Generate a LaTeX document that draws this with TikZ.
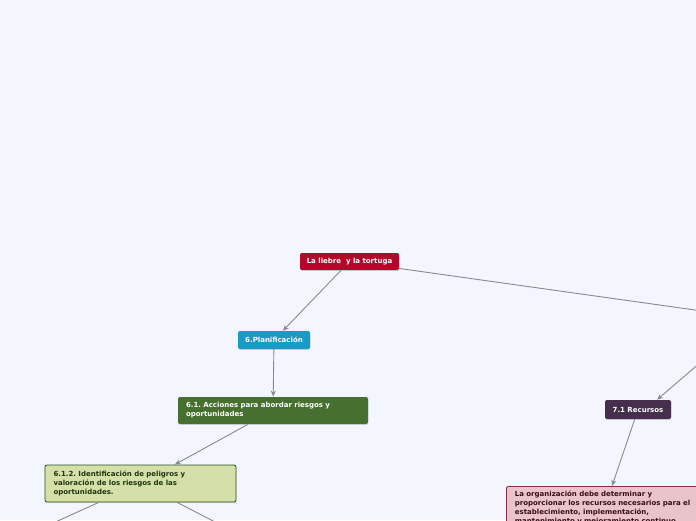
\documentclass[tikz,border=0pt]{standalone}
\usepackage{fontspec}
\setmainfont{DejaVu Sans}
\usetikzlibrary{arrows.meta,shadows}
\definecolor{bg}{HTML}{F3F6FE}
\definecolor{rootc}{HTML}{B4082B}
\definecolor{planc}{HTML}{1A9BC5}
\definecolor{greenc}{HTML}{466F30}
\definecolor{lgfill}{HTML}{D5E0A8}
\definecolor{lgdraw}{HTML}{2E4F1B}
\definecolor{lgtext}{HTML}{1E3510}
\definecolor{purpc}{HTML}{452F4C}
\definecolor{pinkfill}{HTML}{E9C4CA}
\definecolor{pinkdraw}{HTML}{8A2B3F}
\definecolor{pinktext}{HTML}{3A0E18}
\definecolor{linec}{HTML}{858A95}
\frenchspacing
\tikzset{
  box/.style={rounded corners=2pt, inner sep=0pt, font=\fontsize{7}{9}\selectfont\bfseries,
    drop shadow={shadow xshift=0.4pt, shadow yshift=-0.9pt, opacity=0.25}},
  darkbox/.style={box, text=white, draw=none, align=center},
  textbox/.style={box, align=left, line width=0.8pt},
  conn/.style={draw=linec, line width=0.9pt},
  arr/.style={conn, -{Stealth[length=6pt,width=5pt]}}
}
\begin{document}
\begin{tikzpicture}[x=1pt,y=-1pt]
\fill[bg] (0,0) rectangle (696,520);
\useasboundingbox (0,0) rectangle (696,520);

\node[darkbox, fill=rootc, minimum width=99pt, minimum height=17pt] (root) at (349.5,261.5) {La liebre\ \ y la tortuga};
\node[darkbox, fill=planc, minimum width=72pt, minimum height=18pt] (plan) at (274,340) {6.Planificación};
\node[textbox, fill=greenc, draw=none, text=white, minimum width=190pt, minimum height=27pt,
      text width=174pt] (acc) at (273,410.5) {6.1. Acciones para abordar riesgos y\\oportunidades};
\node[textbox, fill=lgfill, draw=lgdraw, text=lgtext, minimum width=191pt, minimum height=37pt,
      text width=174pt] (ident) at (140.5,483.5) {6.1.2. Identificación de peligros y\\valoración de los riesgos de las\\oportunidades.};
\node[darkbox, fill=purpc, minimum width=66pt, minimum height=19pt] (rec) at (638,409.5) {7.1 Recursos};
\node[textbox, fill=pinkfill, draw=pinkdraw, text=pinktext, anchor=north west,
      text width=199pt, inner xsep=8.5pt, inner ysep=4pt] (org) at (506,486)
      {La organización debe determinar y\\proporcionar los recursos necesarios para el\\establecimiento, implementación,\\mantenimiento y mejoramiento continuo};

\coordinate (apoyo) at (752,318);
\coordinate (offA) at (20,538);
\coordinate (offB) at (250,540);
\coordinate (orgtop) at ([xshift=106pt]org.north west);

\draw[conn] (root) -- (apoyo);
\draw[arr] (apoyo) -- ([xshift=19pt]rec.north);
\draw[arr] (root) -- (plan);
\draw[arr] (plan) -- (acc);
\draw[arr] (acc) -- (ident);
\draw[conn] (ident) -- (offA);
\draw[conn] (ident) -- (offB);
\draw[arr] (rec) -- (orgtop);
\end{tikzpicture}
\end{document}
